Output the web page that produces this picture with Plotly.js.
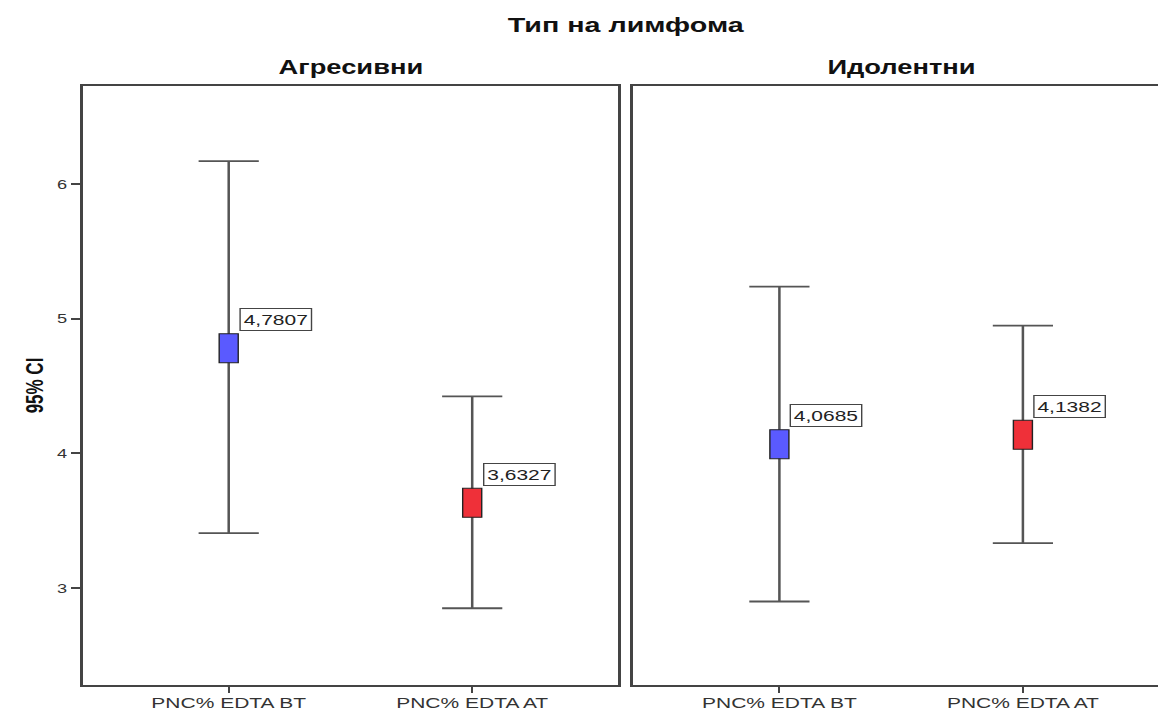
<!DOCTYPE html>
<html>
<head>
<meta charset="utf-8">
<script src="https://cdn.plot.ly/plotly-3.0.1.min.js"></script>
<style>
  html, body { margin: 0; padding: 0; background: #fff; overflow: hidden; }
  /* the chart is drawn narrow and widened horizontally */
  #chart { width: 840px; height: 713px; transform: scaleX(1.4); transform-origin: 0 0; }
</style>
</head>
<body>
<div id="chart"></div>
<script>
// Mean PNC% with 95% confidence interval, by lymphoma type
const categories = ['PNC% EDTA BT', 'PNC% EDTA AT'];
const panelTitles = ['Агресивни', 'Идолентни'];

const aggressiveMean  = [4.7807, 3.6327];
const aggressiveUpper = [6.17, 4.423];
const aggressiveLower = [3.408, 2.85];

const indolentMean  = [4.0685, 4.1382];
const indolentUpper = [5.238, 4.948];
const indolentLower = [2.90, 3.334];

const boxColors = ['#5a5aff', '#ef3039'];
const yTicks = [3, 4, 5, 6];

const frameColor = '#444';
const fontFamily = 'Liberation Sans, Arial, sans-serif';

function fmt(v) { return v.toFixed(4).replace('.', ','); }

function ciTrace(means, upper, lower, xa, ya) {
  return {
    type: 'scatter',
    mode: 'markers',
    x: categories,
    y: means,
    xaxis: xa,
    yaxis: ya,
    marker: { size: 1, opacity: 0 },
    hoverinfo: 'skip',
    showlegend: false,
    error_y: {
      type: 'data',
      symmetric: false,
      array: upper.map((u, i) => u - means[i]),
      arrayminus: lower.map((l, i) => means[i] - l),
      width: 21.5,
      thickness: 1.8,
      color: '#555'
    }
  };
}

const traces = [
  ciTrace(aggressiveMean, aggressiveUpper, aggressiveLower, 'x', 'y'),
  ciTrace(indolentMean, indolentUpper, indolentLower, 'x2', 'y2')
];

// Mean boxes, sized in pixels and anchored at each mean
const shapes = [];
const annotations = [];
[[aggressiveMean, 'x', 'y'], [indolentMean, 'x2', 'y2']].forEach(([means, xa, ya]) => {
  means.forEach((m, i) => {
    shapes.push({
      type: 'rect', layer: 'above',
      xref: xa, yref: ya,
      xsizemode: 'pixel', ysizemode: 'pixel',
      xanchor: i, yanchor: m,
      x0: -6.8, x1: 6.8, y0: -14.5, y1: 14.5,
      fillcolor: boxColors[i],
      line: { color: '#222', width: 1 }
    });
    annotations.push({
      xref: xa, yref: ya, x: categories[i], y: m,
      text: fmt(m), showarrow: false,
      xanchor: 'left', yanchor: 'bottom',
      xshift: 7.5, yshift: 17,
      font: { family: fontFamily, size: 15, color: '#222' },
      bgcolor: '#fff', bordercolor: '#444', borderwidth: 1, borderpad: 2
    });
  });
});

// Panel headings
annotations.push(
  { xref: 'x domain', yref: 'paper', x: 0.5, y: 1, yshift: 6, yanchor: 'bottom',
    text: '<b>' + panelTitles[0] + '</b>', showarrow: false,
    font: { family: fontFamily, size: 19.5, color: '#111' } },
  { xref: 'x2 domain', yref: 'paper', x: 0.5, y: 1, yshift: 6, yanchor: 'bottom',
    text: '<b>' + panelTitles[1] + '</b>', showarrow: false,
    font: { family: fontFamily, size: 19.5, color: '#111' } }
);

const xCommon = {
  type: 'category',
  categoryorder: 'array',
  categoryarray: categories,
  range: [-0.6, 1.6],
  showgrid: false, zeroline: false,
  showline: true, mirror: true, linecolor: frameColor, linewidth: 2,
  ticks: 'outside', ticklen: 6, tickwidth: 1.5, tickcolor: frameColor,
  ticklabelstandoff: -3,
  tickfont: { family: fontFamily, size: 15, color: '#333' },
  fixedrange: true
};
const yRange = [2.28, 6.728];

const layout = {
  width: 840, height: 713,
  paper_bgcolor: '#fff', plot_bgcolor: '#fff',
  margin: { l: 58.5, r: 5, t: 86, b: 28 },
  separators: ',.',
  title: {
    text: '<b>Тип на лимфома</b>',
    font: { family: fontFamily, size: 20.5, color: '#111' },
    x: 0.5, xref: 'paper', xanchor: 'center',
    y: 0.965, yanchor: 'middle'
  },
  xaxis: Object.assign({}, xCommon, { domain: [0, 0.4931], anchor: 'y' }),
  xaxis2: Object.assign({}, xCommon, { domain: [0.5069, 1], anchor: 'y2' }),
  yaxis: {
    range: yRange, tickvals: yTicks, ticktext: yTicks.map(String),
    showgrid: false, zeroline: false,
    showline: true, mirror: true, linecolor: frameColor, linewidth: 2,
    ticks: 'outside', ticklen: 6.5, tickwidth: 2, tickcolor: frameColor,
    tickfont: { family: fontFamily, size: 13, color: '#333' },
    title: { text: '<b>95% CI</b>', standoff: 5,
             font: { family: fontFamily, size: 17, color: '#111' } },
    anchor: 'x', fixedrange: true
  },
  yaxis2: {
    range: yRange, showgrid: false, zeroline: false,
    showline: true, mirror: true, linecolor: frameColor, linewidth: 2,
    showticklabels: false, ticks: '',
    anchor: 'x2', fixedrange: true
  },
  shapes: shapes,
  annotations: annotations,
  showlegend: false
};

Plotly.newPlot('chart', traces, layout, { displayModeBar: false, staticPlot: true });
</script>
</body>
</html>
